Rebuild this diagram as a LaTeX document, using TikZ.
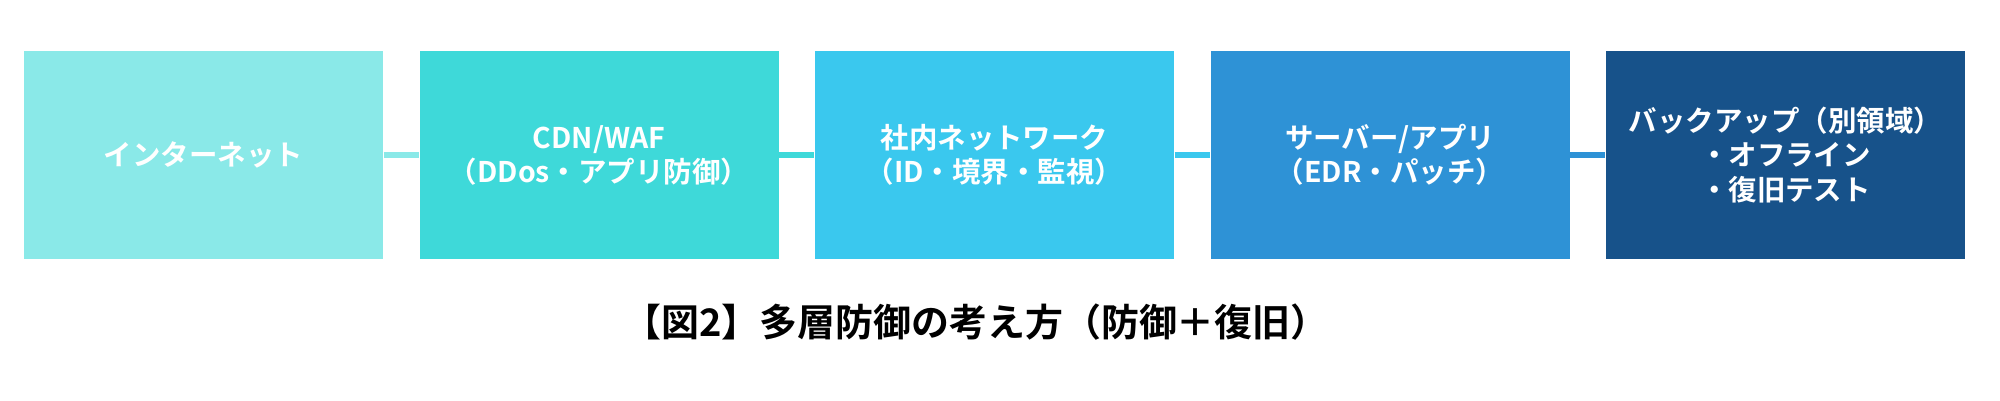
\documentclass[tikz,border=0pt]{standalone}
\usepackage{fontspec}
\setmainfont{Noto Sans CJK JP}[BoldFont={Noto Sans CJK JP Bold}]
\definecolor{cA}{HTML}{8AE9E8}
\definecolor{cB}{HTML}{3ED9D9}
\definecolor{cC}{HTML}{3AC8EE}
\definecolor{cD}{HTML}{2E92D6}
\definecolor{cE}{HTML}{17528A}
\definecolor{capc}{HTML}{000000}
\begin{document}
\begin{tikzpicture}[
  layerbox/.style={draw=none, minimum width=3.59cm, minimum height=2.08cm, inner sep=0pt,
    align=center, text=white, font=\bfseries\fontsize{8.1}{9.7}\selectfont},
  link/.style={line width=1.7pt}
]
\useasboundingbox (0,0) rectangle (20,4);
\fill[white] (0,0) rectangle (20,4);
\node[layerbox, fill=cA] (n1) at (2.035,2.45) {インターネット};
\node[layerbox, fill=cB] (n2) at (5.990,2.45) {CDN/WAF\\（DDos・アプリ防御）};
\node[layerbox, fill=cC] (n3) at (9.945,2.45) {社内ネットワーク\\（ID・境界・監視）};
\node[layerbox, fill=cD] (n4) at (13.900,2.45) {サーバー/アプリ\\（EDR・パッチ）};
\node[layerbox, fill=cE] (n5) at (17.855,2.45) {バックアップ（別領域）\\・オフライン\\・復旧テスト};
\draw[link, cA] (n1.east) -- (n2.west);
\draw[link, cB] (n2.east) -- (n3.west);
\draw[link, cC] (n3.east) -- (n4.west);
\draw[link, cD] (n4.east) -- (n5.west);
\node[text=capc, font=\bfseries\fontsize{10.8}{13}\selectfont, inner sep=0pt] (cap) at (9.76,0.78) {【図2】多層防御の考え方（防御＋復旧）};
\end{tikzpicture}
\end{document}
